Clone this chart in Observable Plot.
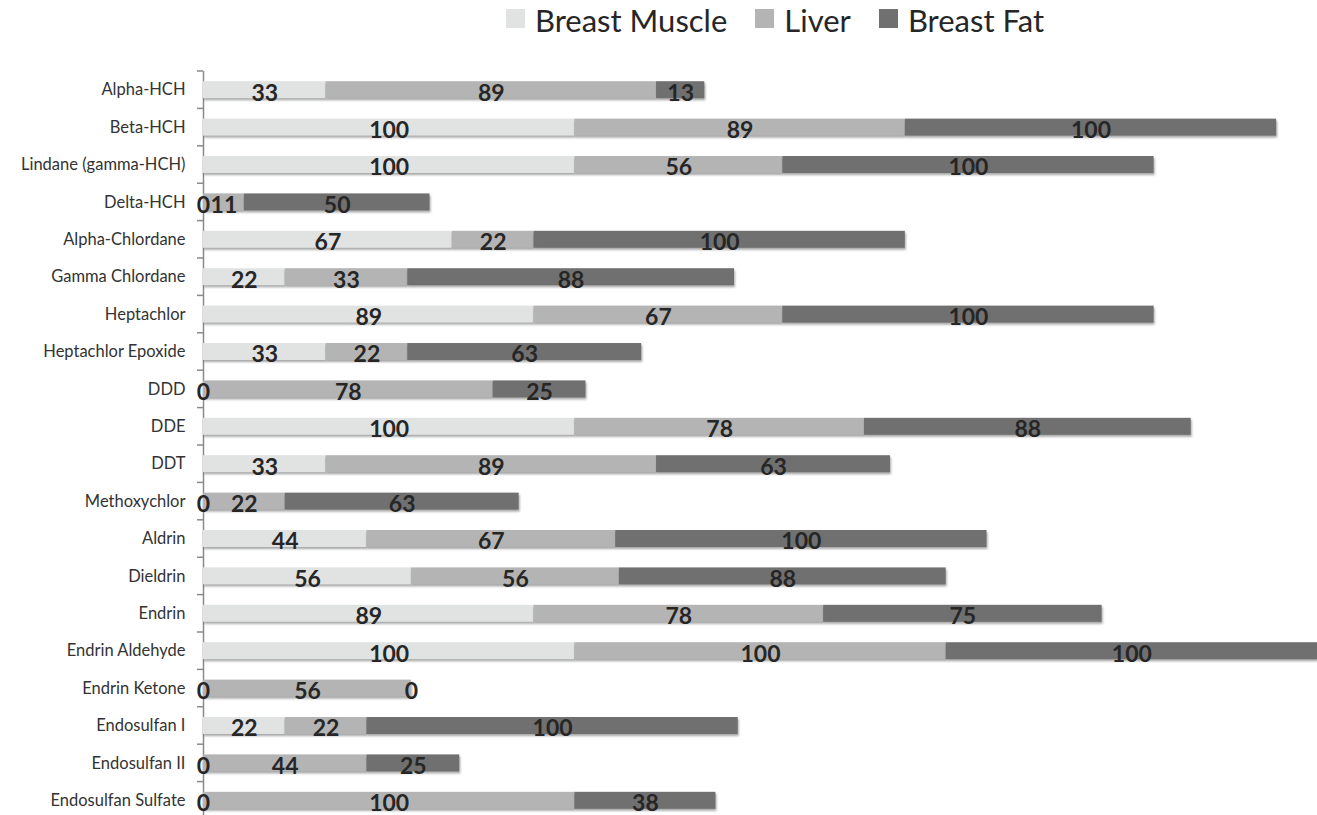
<!DOCTYPE html>
<html>
<head>
<meta charset="utf-8">
<script src="https://cdn.jsdelivr.net/npm/d3@7"></script>
<script src="https://cdn.jsdelivr.net/npm/@observablehq/plot@0.6"></script>
<style>
  html, body { margin: 0; padding: 0; background: #fff; overflow: hidden; width: 1317px; height: 815px; }
  #legend { position: relative; height: 50px; font-family: Lato, "Open Sans", sans-serif; color: #262626; }
  #legend .row { position: absolute; left: 506px; top: 0; height: 40px; display: flex; align-items: center; }
  #legend .item { display: flex; align-items: center; margin-right: 28px; }
  #legend .sw { width: 19px; height: 19px; margin-right: 10px; margin-top: -3px; }
  #legend .lab { font-size: 31px; line-height: 40px; }
  #chart svg { display: block; }
  g[aria-label="bar"] rect { filter: drop-shadow(1px 2px 1.2px rgba(0,0,0,0.35)); }
</style>
</head>
<body>
<div id="legend"></div>
<div id="chart"></div>
<script>
const categories = [
  "Alpha-HCH", "Beta-HCH", "Lindane (gamma-HCH)", "Delta-HCH", "Alpha-Chlordane",
  "Gamma Chlordane", "Heptachlor", "Heptachlor Epoxide", "DDD", "DDE", "DDT",
  "Methoxychlor", "Aldrin", "Dieldrin", "Endrin", "Endrin Aldehyde", "Endrin Ketone",
  "Endosulfan I", "Endosulfan II", "Endosulfan Sulfate"
];
const series = ["Breast Muscle", "Liver", "Breast Fat"];
const colors = ["#e1e3e2", "#b4b4b4", "#707070"];
const breastMuscle = [33, 100, 100, 0, 67, 22, 89, 33, 0, 100, 33, 0, 44, 56, 89, 100, 0, 22, 0, 0];
const liver        = [89, 89, 56, 11, 22, 33, 67, 22, 78, 78, 89, 22, 67, 56, 78, 100, 56, 22, 44, 100];
const breastFat    = [13, 100, 100, 50, 100, 88, 100, 63, 25, 88, 63, 63, 100, 88, 75, 100, 0, 100, 25, 38];
const xDomain = [0, 300];

const valuesBySeries = [breastMuscle, liver, breastFat];
const data = [];
categories.forEach((c, i) => {
  series.forEach((s, j) => data.push({category: c, series: s, value: valuesBySeries[j][i]}));
});

// Legend
const row = d3.select("#legend").append("div").attr("class", "row");
series.forEach((s, j) => {
  const it = row.append("div").attr("class", "item");
  it.append("div").attr("class", "sw").style("background", colors[j]);
  it.append("div").attr("class", "lab").text(s);
});

const separators = (index, scales) => {
  const y = scales.y, x = scales.x;
  const bw = y.bandwidth ? y.bandwidth() : 0;
  const step = y.step ? y.step() : 0;
  const x0 = x(0);
  const pos = categories.map(c => y(c) + bw / 2 - step / 2);
  pos.push(pos[pos.length - 1] + step);
  const g = d3.create("svg:g");
  g.selectAll("line").data(pos).join("line")
    .attr("x1", x0 - 6).attr("x2", x0)
    .attr("y1", d => d).attr("y2", d => d)
    .attr("stroke", "#8a8a8a").attr("stroke-width", 1.5);
  return g.node();
};

const chart = Plot.plot({
  width: 1317,
  height: 780,
  marginTop: 21,
  marginBottom: 11,
  marginLeft: 203,
  marginRight: 0,
  style: { fontFamily: "Lato, 'Open Sans', sans-serif", background: "#fff", overflow: "visible" },
  x: { domain: xDomain, axis: null },
  y: { domain: categories, paddingInner: 0.546, paddingOuter: 0.273, round: false, label: null, axis: null },
  color: { domain: series, range: colors },
  marks: [
    Plot.ruleX([0], { stroke: "#8a8a8a", strokeWidth: 1.5 }),
    Plot.barX(data, { x: "value", y: "category", fill: "series", z: "series" }),
    Plot.axisY({ tickSize: 0, tickPadding: 18, fontSize: 16.5, fill: "#333", label: null }),
    separators,
    Plot.text(data, Plot.stackX({
      x: "value", y: "category", z: "series", text: "value",
      fontSize: 23, fontWeight: "bold", fill: "#262626", dy: 3
    }))
  ]
});
document.getElementById("chart").appendChild(chart);
</script>
</body>
</html>
